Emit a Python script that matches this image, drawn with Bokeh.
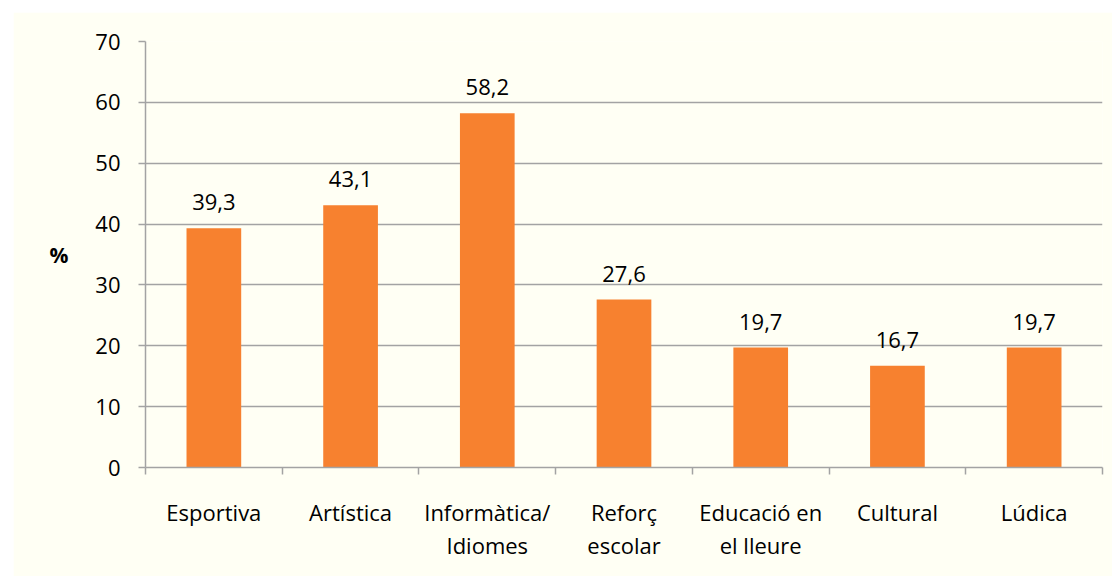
from bokeh.plotting import figure
from bokeh.models import ColumnDataSource, Range1d, FixedTicker, LabelSet
from bokeh.core.properties import value
from bokeh.embed import file_html
from bokeh.resources import INLINE

# ---- data ----
categories = ["Esportiva", "Artística", "Informàtica/\nIdiomes", "Reforç\nescolar",
              "Educació en\nel lleure", "Cultural", "Lúdica"]
values = [39.3, 43.1, 58.2, 27.6, 19.7, 16.7, 19.7]
y_ticks = [0, 10, 20, 30, 40, 50, 60, 70]
y_axis_title = "%"

FONT = "Open Sans"
BAR = "#F7812F"
BG = "#FFFFF4"
GRID = "#A3A3A3"

n = len(categories)
centers = [i + 0.5 for i in range(n)]
bounds = [float(i) for i in range(n + 1)]
labels_txt = [f"{v:.1f}".replace(".", ",") for v in values]

src = ColumnDataSource(dict(x=centers, top=values, lab=labels_txt))

p = figure(frame_width=957, frame_height=426, output_backend="svg", toolbar_location=None,
           x_range=Range1d(0, n), y_range=Range1d(y_ticks[0], y_ticks[-1]),
           min_border_left=132, min_border_right=10, min_border_top=29, min_border_bottom=109)
p.margin = (12, 0, 0, 13)
p.background_fill_color = BG
p.border_fill_color = BG
p.outline_line_color = None

p.vbar(x="x", top="top", bottom=0, width=0.4, source=src, fill_color=BAR, line_color=None)

p.add_layout(LabelSet(x="x", y="top", text="lab", source=src, text_align="center",
                      text_baseline="alphabetic", y_offset=18, text_font=value(FONT),
                      text_font_size=value("22px"), text_color="#000000"))

# grid
p.xgrid.visible = False
p.ygrid.ticker = FixedTicker(ticks=y_ticks)
p.ygrid.grid_line_color = GRID
p.ygrid.grid_line_width = 1.5

# y axis
yax = p.yaxis[0]
yax.ticker = FixedTicker(ticks=y_ticks)
yax.axis_line_color = GRID
yax.axis_line_width = 1.5
yax.major_tick_line_color = GRID
yax.major_tick_line_width = 1.5
yax.major_tick_out = 7
yax.major_tick_in = 0
yax.minor_tick_line_color = None
yax.major_label_standoff = 18
yax.major_label_text_font = FONT
yax.major_label_text_font_size = "22px"
yax.major_label_text_color = "#000000"
yax.axis_label = y_axis_title
yax.axis_label_text_font = FONT
yax.axis_label_text_font_size = "21px"
yax.axis_label_text_font_style = "bold"
yax.axis_label_text_color = "#000000"
yax.axis_label_standoff = 24
if hasattr(yax, "axis_label_orientation"):
    yax.axis_label_orientation = "horizontal"

# x axis
xax = p.xaxis[0]
xax.ticker = FixedTicker(ticks=centers, minor_ticks=bounds)
xax.major_label_overrides = {c: lab for c, lab in zip(centers, categories)}
xax.axis_line_color = GRID
xax.axis_line_width = 1.5
xax.major_tick_line_color = None
xax.major_tick_out = 0
xax.major_tick_in = 0
xax.minor_tick_line_color = GRID
xax.minor_tick_line_width = 1.5
xax.minor_tick_out = 7
xax.minor_tick_in = 0
xax.major_label_standoff = 22
xax.major_label_text_font = FONT
xax.major_label_text_font_size = "22px"
xax.major_label_text_color = "#000000"
xax.major_label_text_line_height = 1.1

open("out.html", "w").write(file_html(p, INLINE))
